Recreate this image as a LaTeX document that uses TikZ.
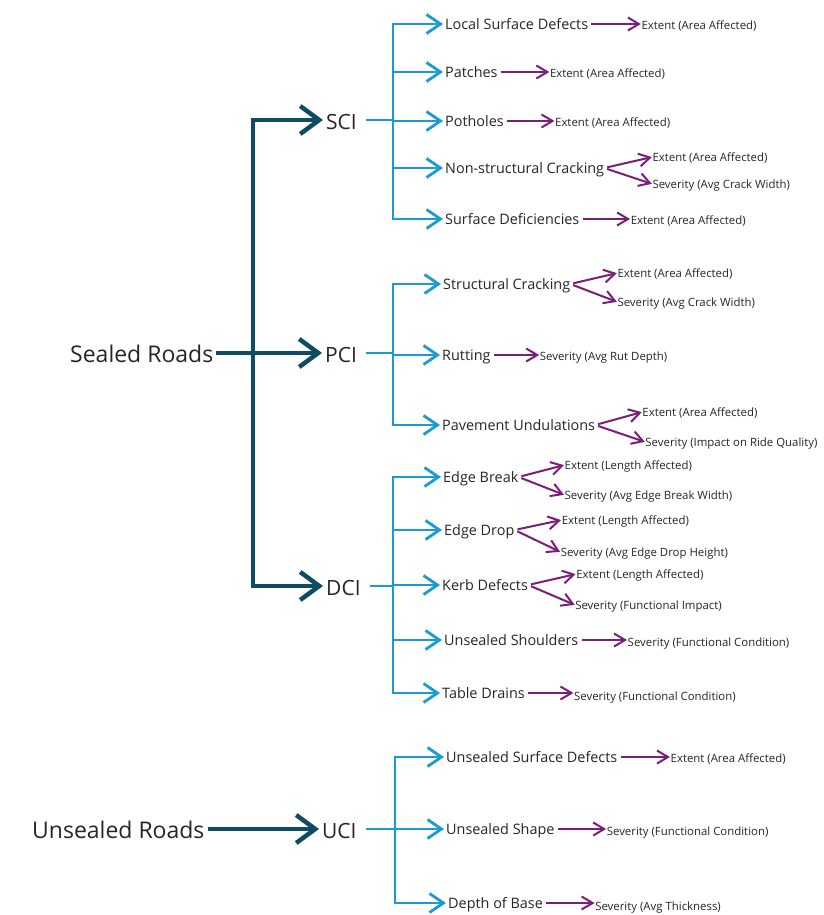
\documentclass[tikz,border=0pt]{standalone}
\usepackage{fontspec}
\setmainfont{Open Sans}
\usetikzlibrary{arrows.meta}
\definecolor{dk}{HTML}{0D4C63}
\definecolor{bl}{HTML}{1C9AD6}
\definecolor{pu}{HTML}{7B1E7A}
\definecolor{tx}{HTML}{262626}
\begin{document}
\begin{tikzpicture}[x=1pt,y=-1pt,
 lab/.style={inner sep=0pt, anchor=west, text depth=0pt, text=tx},
 big/.style={lab, text height=19.5pt, font=\fontsize{23}{27}\selectfont},
 ci/.style={lab, text height=18.5pt, font=\fontsize{21}{25}\selectfont},
 mid/.style={lab, text height=10.3pt, font=\fontsize{14.4}{17}\selectfont},
 sm/.style={lab, text height=8.1pt, font=\fontsize{11.4}{14}\selectfont},
 dkl/.style={draw=dk, line width=4.5pt},
 dka/.style={dkl, -{Straight Barb[length=19pt,width=28pt]}, shorten >=3pt, shorten <=3pt},
 bll/.style={draw=bl, line width=2.8pt},
 bla/.style={bll, -{Straight Barb[length=14pt,width=19pt]}, shorten >=2pt},
 pua/.style={draw=pu, line width=2pt, -{Straight Barb[length=11pt,width=13pt]}, shorten <=3pt, shorten >=0.5pt},
]
\fill[white] (0,0) rectangle (824,915);
\useasboundingbox (0,0) rectangle (824,915);

% top level
\node[big] (sr) at (70,353) {Sealed Roads};
\node[big] (ur) at (32,829) {Unsealed Roads};
\node[ci] (sci) at (326,120) {SCI};
\node[ci] (pci) at (325,353) {PCI};
\node[ci] (dci) at (326,586) {DCI};
\node[ci] (uci) at (322,829) {UCI};
\coordinate (trunk) at (253,0);

\draw[dka] (sr.east) -- (pci.west);
\draw[dkl, {Straight Barb[length=19pt,width=28pt]}-{Straight Barb[length=19pt,width=28pt]}, shorten <=3pt, shorten >=3pt]
  (sci.west) -- (sci.west -| trunk) -- (dci.west -| trunk) -- (dci.west);
\draw[dka] (ur.east) -- (uci.west);

% ---------- SCI ----------
\coordinate (sv) at (393,0);
\node[mid] (lsd) at (445,24) {Local Surface Defects};
\node[mid] (pat) at (445,72) {Patches};
\node[mid] (pot) at (445,121) {Potholes};
\node[mid] (nsc) at (445,168) {Non-structural Cracking};
\node[mid] (sd)  at (445,219) {Surface Deficiencies};
\draw[bll, shorten <=9pt] (sci.east) -- (sci.east -| sv);
\draw[bll, line cap=rect] (lsd.west -| sv) -- (sd.west -| sv);
\foreach \n in {lsd,pat,pot,nsc,sd} \draw[bla] (\n.west -| sv) -- (\n.west);

\node[sm] (lsd1) at ([shift={(53,1)}]lsd.east) {Extent (Area Affected)};
\node[sm] (pat1) at ([shift={(52,1)}]pat.east) {Extent (Area Affected)};
\node[sm] (pot1) at ([shift={(51,1)}]pot.east) {Extent (Area Affected)};
\node[sm] (nsc1) at ([shift={(48,-11)}]nsc.east) {Extent (Area Affected)};
\node[sm] (nsc2) at ([shift={(48,16)}]nsc.east) {Severity (Avg Crack Width)};
\node[sm] (sd1)  at ([shift={(51,1)}]sd.east) {Extent (Area Affected)};
\draw[pua] (lsd.east) -- (lsd.east -| lsd1.west);
\draw[pua] (pat.east) -- (pat.east -| pat1.west);
\draw[pua] (pot.east) -- (pot.east -| pot1.west);
\draw[pua] (nsc.east) -- (nsc1.west);
\draw[pua] (nsc.east) -- (nsc2.west);
\draw[pua] (sd.east) -- (sd.east -| sd1.west);

% ---------- PCI ----------
\coordinate (pv) at (393,0);
\node[mid] (sc)  at (443,284) {Structural Cracking};
\node[mid] (rut) at (442,355) {Rutting};
\node[mid] (pu)  at (442,425) {Pavement Undulations};
\draw[bll, shorten <=9pt] (pci.east) -- (pci.east -| pv);
\draw[bll, line cap=rect] (sc.west -| pv) -- (pu.west -| pv);
\foreach \n in {sc,rut,pu} \draw[bla] (\n.west -| pv) -- (\n.west);

\node[sm] (sc1)  at ([shift={(47,-11)}]sc.east) {Extent (Area Affected)};
\node[sm] (sc2)  at ([shift={(47,18)}]sc.east) {Severity (Avg Crack Width)};
\node[sm] (rut1) at ([shift={(49,1)}]rut.east) {Severity (Avg Rut Depth)};
\node[sm] (pu1)  at ([shift={(47,-13)}]pu.east) {Extent (Area Affected)};
\node[sm] (pu2)  at ([shift={(50,17)}]pu.east) {Severity (Impact on Ride Quality)};
\draw[pua] (sc.east) -- (sc1.west);
\draw[pua] (sc.east) -- (sc2.west);
\draw[pua] (rut.east) -- (rut.east -| rut1.west);
\draw[pua] (pu.east) -- (pu1.west);
\draw[pua] (pu.east) -- (pu2.west);

% ---------- DCI ----------
\coordinate (dv) at (393,0);
\node[mid] (eb) at (443,477) {Edge Break};
\node[mid] (ed) at (444,530) {Edge Drop};
\node[mid] (kd) at (442,585) {Kerb Defects};
\node[mid] (us) at (444,640) {Unsealed Shoulders};
\node[mid] (td) at (442,693) {Table Drains};
\draw[bll, shorten <=9pt] (dci.east) -- (dci.east -| dv);
\draw[bll, line cap=rect] (eb.west -| dv) -- (td.west -| dv);
\foreach \n in {eb,ed,kd,us,td} \draw[bla] (\n.west -| dv) -- (\n.west);

\node[sm] (eb1) at ([shift={(46,-12)}]eb.east) {Extent (Length Affected)};
\node[sm] (eb2) at ([shift={(46,18)}]eb.east) {Severity (Avg Edge Break Width)};
\node[sm] (ed1) at ([shift={(47,-10)}]ed.east) {Extent (Length Affected)};
\node[sm] (ed2) at ([shift={(46,22)}]ed.east) {Severity (Avg Edge Drop Height)};
\node[sm] (kd1) at ([shift={(48,-11)}]kd.east) {Extent (Length Affected)};
\node[sm] (kd2) at ([shift={(47,20)}]kd.east) {Severity (Functional Impact)};
\node[sm] (us1) at ([shift={(49,2)}]us.east) {Severity (Functional Condition)};
\node[sm] (td1) at ([shift={(49,3)}]td.east) {Severity (Functional Condition)};
\draw[pua] (eb.east) -- (eb1.west);
\draw[pua] (eb.east) -- (eb2.west);
\draw[pua] (ed.east) -- (ed1.west);
\draw[pua] (ed.east) -- (ed2.west);
\draw[pua] (kd.east) -- (kd1.west);
\draw[pua] (kd.east) -- (kd2.west);
\draw[pua] (us.east) -- (us.east -| us1.west);
\draw[pua] (td.east) -- (td.east -| td1.west);

% ---------- UCI ----------
\coordinate (uv) at (395,0);
\node[mid] (usd) at (446,757) {Unsealed Surface Defects};
\node[mid] (ush) at (446,829) {Unsealed Shape};
\node[mid] (db)  at (448,903) {Depth of Base};
\draw[bll, shorten <=9pt] (uci.east) -- (uci.east -| uv);
\draw[bll, line cap=rect] (usd.west -| uv) -- (db.west -| uv);
\foreach \n in {usd,ush,db} \draw[bla] (\n.west -| uv) -- (\n.west);

\node[sm] (usd1) at ([shift={(53,1)}]usd.east) {Extent (Area Affected)};
\node[sm] (ush1) at ([shift={(52,2)}]ush.east) {Severity (Functional Condition)};
\node[sm] (db1)  at ([shift={(52,3)}]db.east) {Severity (Avg Thickness)};
\draw[pua] (usd.east) -- (usd.east -| usd1.west);
\draw[pua] (ush.east) -- (ush.east -| ush1.west);
\draw[pua] (db.east) -- (db.east -| db1.west);
\end{tikzpicture}
\end{document}
